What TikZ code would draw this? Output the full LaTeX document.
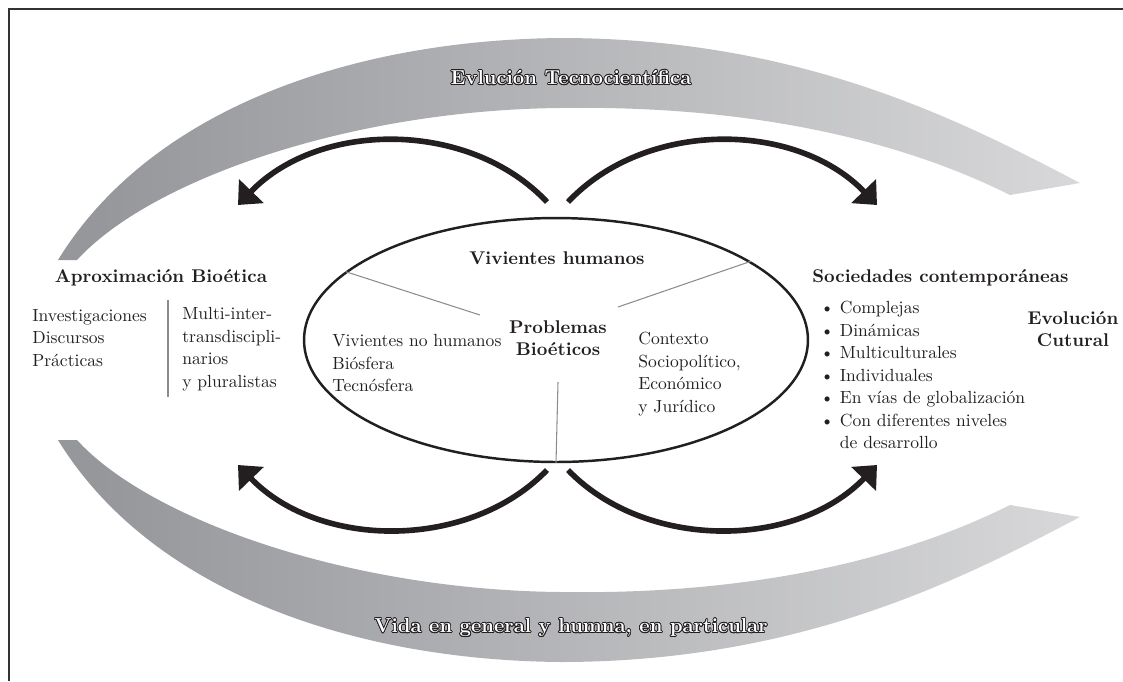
\documentclass[tikz,border=0pt]{standalone}
\usetikzlibrary{arrows.meta,shapes.geometric}
\usepackage{contour}
\contourlength{0.45pt}
\definecolor{banda}{RGB}{150,151,155}
\definecolor{tinta}{RGB}{35,31,32}
\pgfdeclarehorizontalshading{bandfade}{100bp}{color(0bp)=(banda); color(27bp)=(banda); color(100bp)=(banda!5)}

\begin{document}
\begin{tikzpicture}[x=0.02cm,y=-0.02cm,
  txt/.style={text=tinta,font=\fontsize{10}{12.8}\selectfont,inner sep=0pt,align=left},
  tit/.style={text=tinta,font=\fontsize{10.5}{12.8}\selectfont\bfseries,inner sep=0pt,align=center},
  cinta/.style={text=white,font=\fontsize{11.5}{14}\selectfont\bfseries,inner sep=0pt},
  flecha/.style={tinta,line width=3.2pt,-{Triangle[length=11pt,width=19pt]}},
  raya/.style={black!45,line width=0.6pt}]
\useasboundingbox (0,0) rectangle (1123,681);
\draw[line width=1.1pt,black!80] (9,681)--(9,9)--(1123,9);
% bandas
\shade[shading=bandfade] (58,260) .. controls (150,110) and (350,40) .. (560,38) .. controls (800,38) and (960,120) .. (1080,183) -- (1010,195) .. controls (900,140) and (750,105) .. (560,108) .. controls (350,110) and (150,180) .. (77,260) -- cycle;
\shade[shading=bandfade] (58,440) .. controls (150,590) and (350,660) .. (560,662) .. controls (800,662) and (960,580) .. (1080,517) -- (1010,505) .. controls (900,560) and (750,595) .. (560,592) .. controls (350,590) and (150,520) .. (77,440) -- cycle;
\node[cinta] (tecno) at (571,78) {\contour{tinta}{Evlución Tecnocientífica}};
\node[cinta] (vida) at (571,628) {\contour{tinta}{Vida en general y humna, en particular}};
% elipse central
\node[draw=tinta,line width=1.4pt,ellipse,minimum width=10.08cm,minimum height=4.88cm,inner sep=0pt] (elipse) at (556,340) {};
\node[tit] (humanos) at (557,258) {Vivientes humanos};
\node[tit] (problemas) at (558,338) {Problemas\\Bioéticos};
\node[txt,anchor=west] (nohumanos) at (332,363) {Vivientes no humanos\\Biósfera\\Tecnósfera};
\node[txt,anchor=west] (contexto) at (638,374) {Contexto\\Sociopolítico,\\Económico\\y Jurídico};
\coordinate (ci) at (480,315);
\coordinate (cd) at (618,307);
\coordinate (cb) at (558,382);
\draw[raya] (elipse.162) -- (ci);
\draw[raya] (elipse.22) -- (cd);
\draw[raya] (elipse.south) -- (cb);
% lado izquierdo
\node[tit] (aprox) at (161,278) {Aproximación Bioética};
\node[txt,anchor=west] (invest) at (32,338) {Investigaciones\\Discursos\\Prácticas};
\node[txt,anchor=west] (multi) at (182,349) {Multi-inter-\\transdiscipli-\\narios\\y pluralistas};
\draw[raya] (168,300) -- (168,397);
% lado derecho
\node[tit,anchor=west] (socied) at (812,278) {Sociedades contemporáneas};
\node[txt,anchor=west] (rasgos) at (820,375) {\textbullet\ Complejas\\\textbullet\ Dinámicas\\\textbullet\ Multiculturales\\\textbullet\ Individuales\\\textbullet\ En vías de globalización\\\textbullet\ Con diferentes niveles\\\phantom{\textbullet\ }de desarrollo};
\node[tit] (cultural) at (1073,329) {Evolución\\Cutural};
% flechas
\coordinate (a1) at (547,202);
\coordinate (a2) at (568,202);
\coordinate (b1) at (547,470);
\coordinate (b2) at (568,470);
\coordinate (p1) at (238,205);
\coordinate (p2) at (877,205);
\coordinate (p3) at (238,465);
\coordinate (p4) at (877,465);
\draw[flecha] (a1) .. controls (470,120) and (320,120) .. (p1);
\draw[flecha] (a2) .. controls (645,120) and (795,120) .. (p2);
\draw[flecha] (b1) .. controls (470,550) and (320,550) .. (p3);
\draw[flecha] (b2) .. controls (645,550) and (795,550) .. (p4);
\end{tikzpicture}
\end{document}
